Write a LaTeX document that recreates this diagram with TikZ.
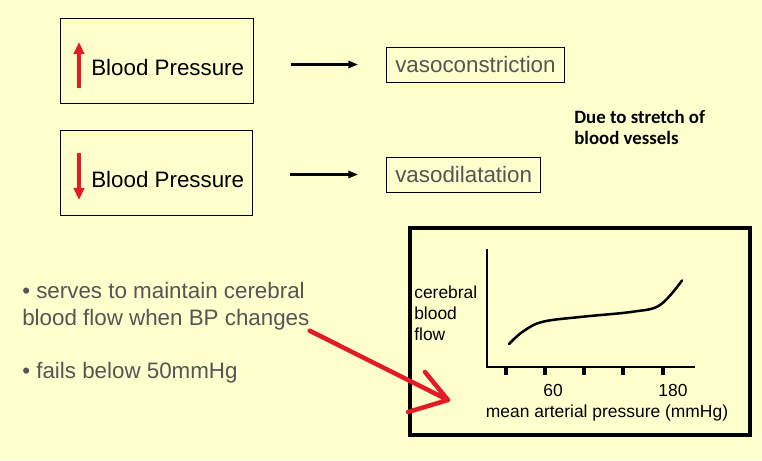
\documentclass[tikz,border=0pt]{standalone}
\usepackage{fontspec}
\setmainfont{Liberation Sans}
\newfontfamily\notefont{Carlito}
\usetikzlibrary{arrows.meta,positioning}
\definecolor{SlideYellow}{RGB}{255,255,206}
\definecolor{BulletGray}{RGB}{85,85,85}
\definecolor{MarkRed}{RGB}{226,28,36}
\tikzset{
  bpbox/.style={draw=black,line width=0.7pt,minimum width=4.8cm,
    minimum height=2.1cm,inner sep=0pt},
  bptext/.style={inner sep=0pt,anchor=west,text=black,
    font=\fontsize{15.9}{19}\selectfont},
  resultbox/.style={draw=black,line width=0.7pt,text=BulletGray,anchor=west,
    inner xsep=0.22cm,inner ysep=0pt,minimum height=0.875cm,
    font=\fontsize{15.9}{19}\selectfont},
  flowarrow/.style={-{Triangle[length=2.4mm,width=1.8mm]},line width=1.5pt},
  bparrow/.style={-{Triangle[length=3mm,width=2.6mm]},line width=2.6pt,
    draw=MarkRed},
  bullettext/.style={inner sep=0pt,anchor=west,align=left,text=BulletGray,
    font=\fontsize{15.9}{19.2}\selectfont},
  graphtext/.style={inner sep=0pt,text=black,
    font=\fontsize{12.4}{15}\selectfont},
  redmark/.style={draw=MarkRed,line width=3.2pt,line cap=round,
    line join=round},
}

\begin{document}
\begin{tikzpicture}[x=0.025cm,y=-0.025cm]
  % slide background
  \fill[SlideYellow] (0,0) rectangle (762,460);
  \useasboundingbox (0,0) rectangle (762,460);

  % blood pressure boxes
  \node[bpbox] (upbox) at (157,61) {};
  \node[bpbox] (downbox) at (156.5,173) {};
  \node[bptext] (uptext) at (91,68) {Blood Pressure};
  \node[bptext] (downtext) at (91,179.5) {Blood Pressure};
  \draw[bparrow] (79,88) -- (79,42);
  \draw[bparrow] (79,153) -- (79,200);

  % responses
  \node[resultbox] (vcon) at (386,64.5) {vasoconstriction};
  \node[resultbox] (vdil) at (386,174.5) {vasodilatation};
  \draw[flowarrow,shorten <=0.93cm,shorten >=0.7cm] (upbox.east |- vcon.west) -- (vcon.west);
  \draw[flowarrow,shorten <=0.93cm,shorten >=0.7cm] (downbox.east |- vdil.west) -- (vdil.west);

  \node[inner sep=0pt,anchor=west,align=left,
    font=\notefont\bfseries\fontsize{13.4}{15}\selectfont] (stretch) at (574,127.5)
    {Due to stretch of\\blood vessels};

  % bullets
  \node[bullettext] (serves) at (22,306.5)
    {\textbullet\ serves to maintain cerebral\\blood flow when BP changes};
  \node[bullettext] (fails) at (22,373) {\textbullet\ fails below 50mmHg};

  % autoregulation graph
  \draw[line width=2.8pt] (410,228) rectangle (750,435);
  \draw[line width=2pt] (487,249) -- (487,367) -- (695,367);
  \foreach \tx in {506,545,584,623,663}
    \draw[line width=2.2pt] (\tx,367) -- (\tx,375);
  \draw[line width=1.8pt,line cap=round] plot[smooth,tension=0.6] coordinates
    {(509,344) (523,331.5) (543,321.7) (583,316.7) (633,311.7) (660,305) (682,280.5)};
  \node[graphtext,anchor=west,align=left] (yaxis) at (414,313) {cerebral\\blood\\flow};
  \node[graphtext] (sixty) at (553,390) {60};
  \node[graphtext] (oneeighty) at (673,390) {180};
  \node[graphtext] (xaxis) at (607,413) {mean arterial pressure (mmHg)};

  % red pointer
  \coordinate (tip) at (448,400);
  \draw[redmark] (serves.south east) -- (tip) -- ++(-23,-28)
    (tip) -- ++(-40,12);
\end{tikzpicture}
\end{document}
